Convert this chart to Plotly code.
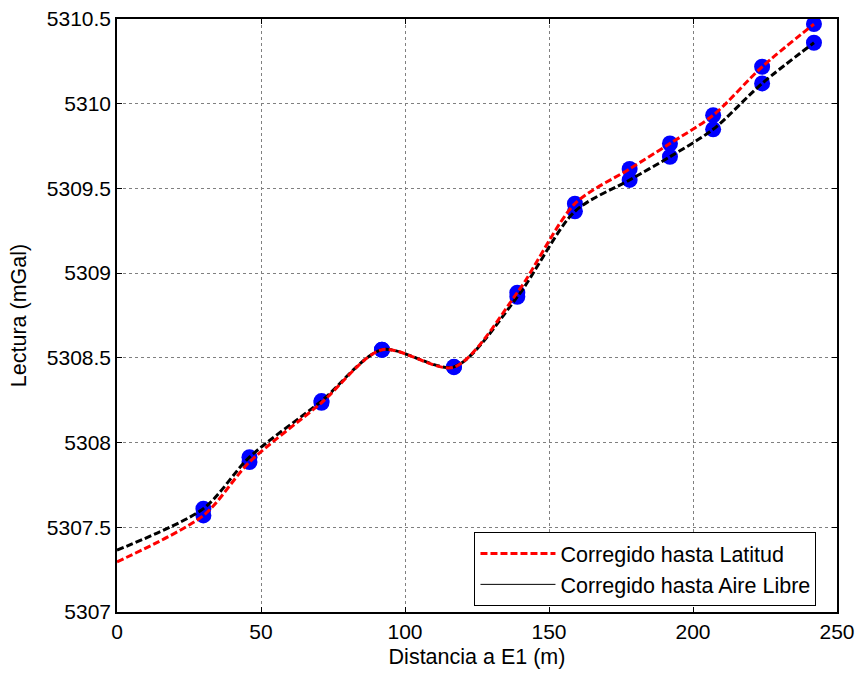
import plotly.graph_objects as go

# Station distances (m)
dist = [30, 46, 71, 92, 117, 139, 159, 178, 192, 207, 224, 242]
# Corrected readings (mGal)
latitud = [5307.57, 5307.885, 5308.235, 5308.548, 5308.445, 5308.885, 5309.41, 5309.615, 5309.765, 5309.932, 5310.218, 5310.47]
aire_libre = [5307.61, 5307.914, 5308.245, 5308.548, 5308.447, 5308.86, 5309.365, 5309.55, 5309.687, 5309.849, 5310.12, 5310.36]
# Curve start values at x = 0
start_dist = 0
latitud_start = 5307.296
aire_libre_start = 5307.365

x_ticks = [0, 50, 100, 150, 200, 250]
y_ticks = [5307, 5307.5, 5308, 5308.5, 5309, 5309.5, 5310, 5310.5]
y_tick_text = ["5307", "5307.5", "5308", "5308.5", "5309", "5309.5", "5310", "5310.5"]

fig = go.Figure()

curve_x = [start_dist] + dist
line_style = dict(width=3, dash="7px,3px", shape="spline", smoothing=0.8)

# markers
fig.add_trace(go.Scatter(x=dist, y=aire_libre, mode="markers",
                         marker=dict(color="#0000FF", size=16), showlegend=False))
fig.add_trace(go.Scatter(x=dist, y=latitud, mode="markers",
                         marker=dict(color="#0000FF", size=16), showlegend=False))
# black dashed curve (aire libre)
fig.add_trace(go.Scatter(x=curve_x, y=[aire_libre_start] + aire_libre, mode="lines",
                         line=dict(color="black", **line_style),
                         showlegend=False, hoverinfo="skip"))
# red dashed curve (latitud)
fig.add_trace(go.Scatter(x=curve_x, y=[latitud_start] + latitud, mode="lines",
                         line=dict(color="red", **line_style),
                         name="Corregido hasta Latitud", showlegend=True, hoverinfo="skip"))
# legend entry for aire libre
fig.add_trace(go.Scatter(x=[None], y=[None], mode="lines",
                         line=dict(color="black", width=1),
                         name="Corregido hasta Aire Libre", showlegend=True))

font = "Liberation Sans, Arial, sans-serif"
axis_common = dict(showline=True, linecolor="black", linewidth=1.5, mirror="allticks",
                   ticks="inside", ticklen=5, tickcolor="black",
                   showgrid=True, gridcolor="#808080", griddash="dot", gridwidth=1,
                   zeroline=False, automargin=False,
                   tickfont=dict(family=font, size=21, color="black"))

fig.update_layout(
    width=858, height=673, autosize=False,
    margin=dict(l=117, r=21, t=19, b=61),
    paper_bgcolor="white", plot_bgcolor="white",
    xaxis=dict(range=[0, 250], tickvals=x_ticks,
               title=dict(text="Distancia a E1 (m)", font=dict(family=font, size=21.5, color="black"), standoff=7),
               **axis_common),
    yaxis=dict(range=[5307, 5310.5], tickvals=y_ticks, ticktext=y_tick_text,
               title=dict(text="Lectura (mGal)", font=dict(family=font, size=21.5, color="black"), standoff=14),
               **axis_common),
    legend=dict(x=0.4965, y=0.135, xanchor="left", yanchor="top",
                bordercolor="black", borderwidth=1, bgcolor="white",
                font=dict(family=font, size=21.5, color="black"), itemwidth=75,
                tracegroupgap=0),
    showlegend=True,
)

fig.write_html("out.html")
